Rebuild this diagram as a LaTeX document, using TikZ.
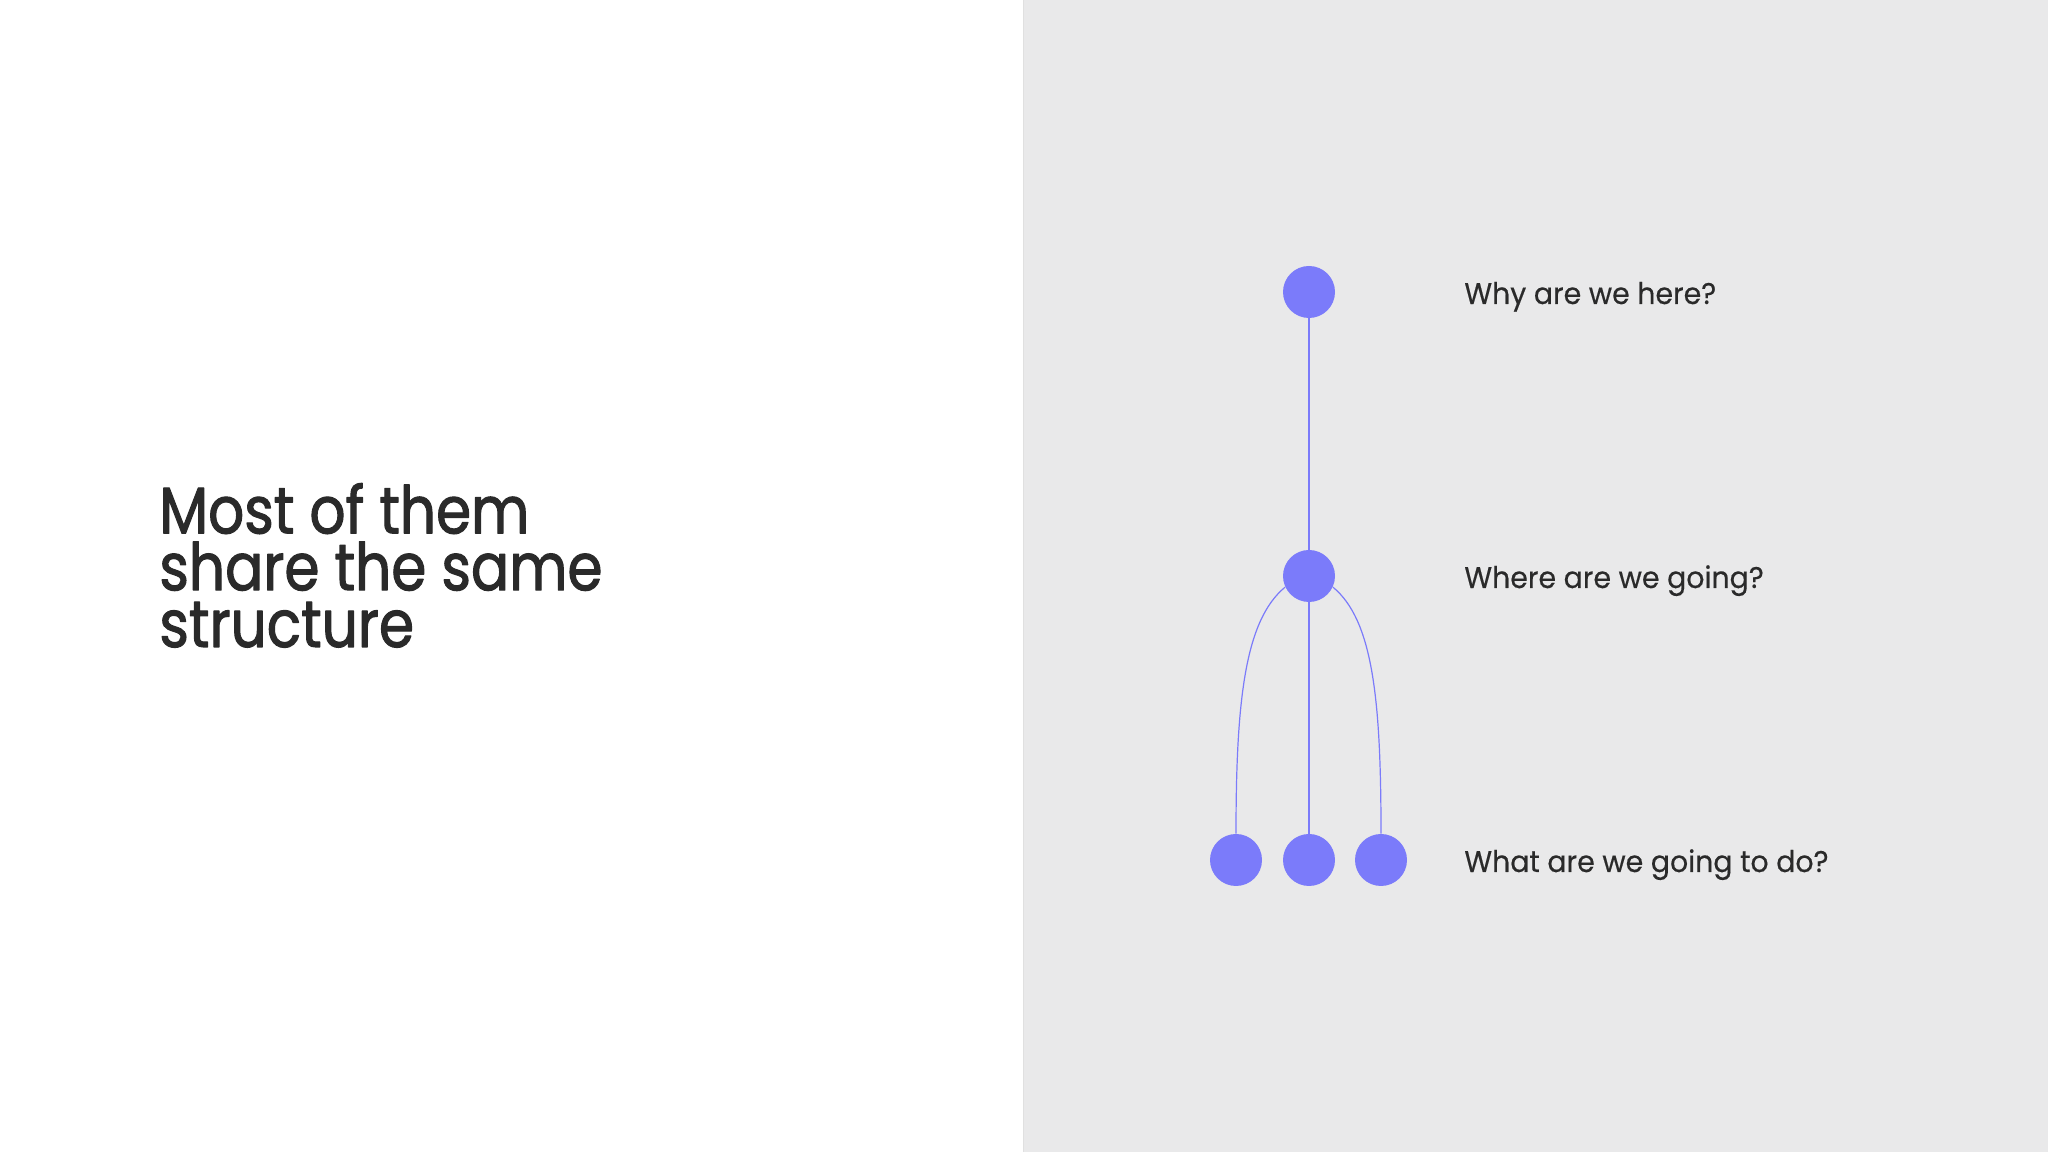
\documentclass[tikz,border=0pt]{standalone}
\usepackage{fontspec}
\setmainfont{Poppins}
\newfontfamily\headfont[FakeStretch=0.86,FakeBold=1.6]{Poppins}
\newfontfamily\askfont[FakeStretch=0.95,FakeBold=0.4]{Poppins}
\usepackage{tikz}
\usetikzlibrary{arrows.meta}
\usetikzlibrary{shapes}

\definecolor{dotblue}{HTML}{7B7BFA}
\definecolor{panelgray}{HTML}{E9E9EA}
\definecolor{inkdark}{HTML}{2A2A2A}

\tikzset{
  dot/.style={circle,fill=dotblue,draw=none,minimum size=26bp,inner sep=0pt},
  link/.style={dotblue,line width=0.6bp},
  question/.style={anchor=base west,inner sep=0pt,text=inkdark,font=\askfont\fontsize{15}{18}\selectfont},
}

\begin{document}
\begin{tikzpicture}[>=latex,line join=bevel,]
%%
\useasboundingbox (0bp,0bp) rectangle (1024bp,576bp);
\fill[white] (0bp,0bp) rectangle (1024bp,576bp);
\filldraw[fill=panelgray,draw=black!12,line width=0.5bp] (511.5bp,-1bp) rectangle (1025bp,577bp);
%
\node (title) at (79.5bp,252.5bp) [anchor=base west,inner sep=0pt,align=left,text=inkdark,font=\headfont\fontsize{33}{28.5}\selectfont] {Most of them\\share the same\\structure};
%
  \node (node_0) at (654.5bp,430bp) [dot] {};
  \node (node_1) at (654.5bp,288bp) [dot] {};
  \node (node_2) at (618bp,146bp) [dot] {};
  \node (node_3) at (654.5bp,146bp) [dot] {};
  \node (node_4) at (690.5bp,146bp) [dot] {};
  \node (label_0) at (732bp,424bp) [question] {Why are we here?};
  \node (label_1) at (732bp,282bp) [question] {Where are we going?};
  \node (label_2) at (732bp,140bp) [question] {What are we going to do?};
  \draw [link] (node_0) -- (node_1);
  \draw [link] (node_1) -- (node_3);
  \draw [link] (node_1.205) ..controls +(-20bp,-16.5bp) and +(0bp,67bp) .. (node_2.north);
  \draw [link] (node_1.-25) ..controls +(20bp,-16.5bp) and +(0bp,67bp) .. (node_4.north);
%
\end{tikzpicture}
\end{document}
